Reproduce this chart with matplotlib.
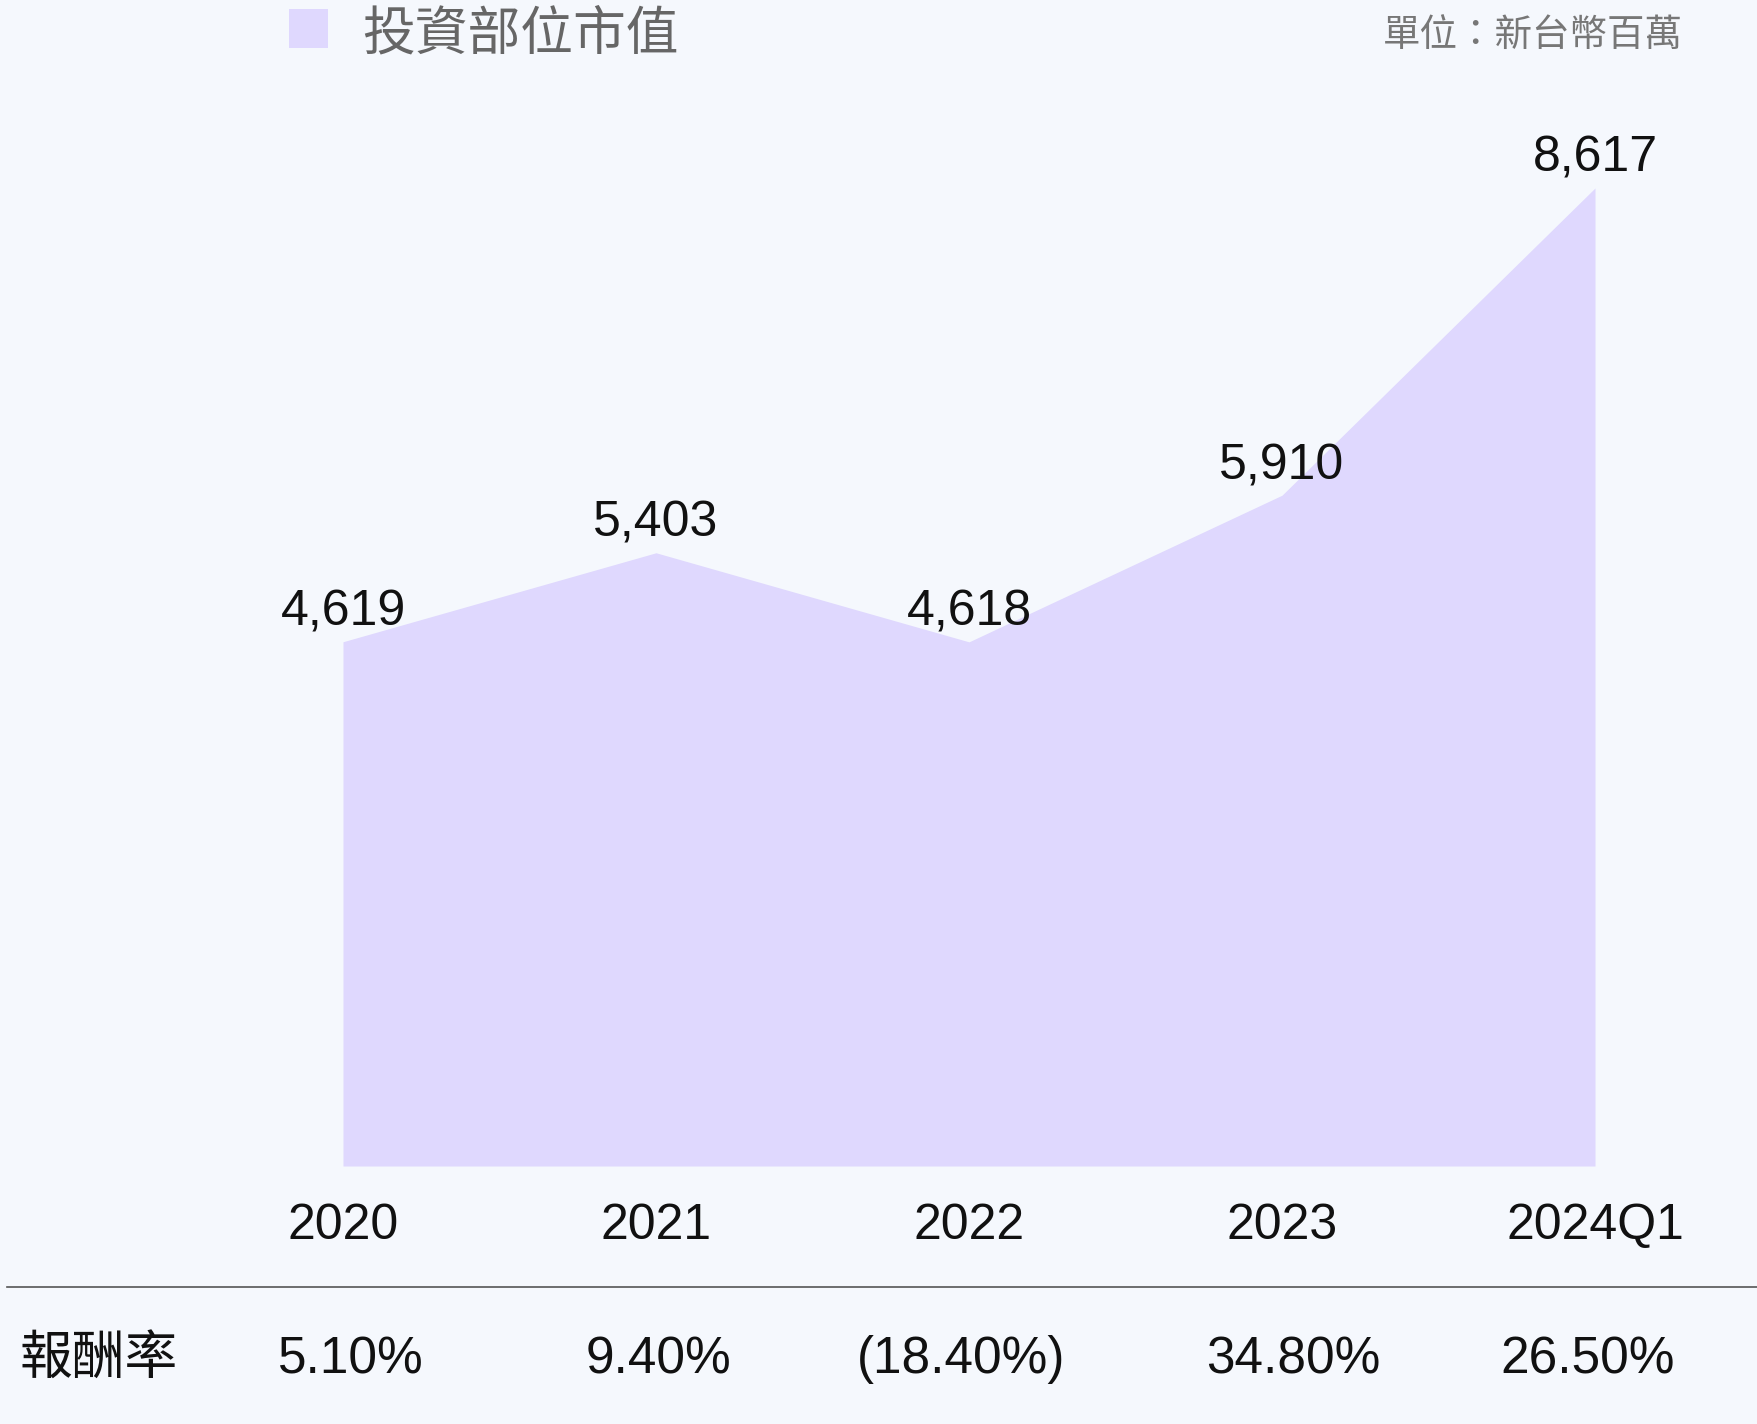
import numpy as np
import matplotlib.pyplot as plt

years = ['2020', '2021', '2022', '2023', '2024Q1']
market_value = [4619, 5403, 4618, 5910, 8617]
returns = ['5.10%', '9.40%', '(18.40%)', '34.80%', '26.50%']

legend_label = '投資部位市值'
unit_label = '單位：新台幣百萬'
row_label = '報酬率'

W, H = 1757, 1424
bg = '#f5f8fd'
fill = '#dfd8fe'
latin = ['Liberation Sans', 'Noto Sans CJK TC', 'DejaVu Sans']
cjk = ['Noto Sans CJK TC', 'DejaVu Sans']

fig = plt.figure(figsize=(W / 100, H / 100), dpi=100, facecolor=bg)

# axes spans from top of figure down to the baseline of the area
base_px = 1166
ax = fig.add_axes([0, 1 - base_px / H, 1, base_px / H])
ax.set_facecolor(bg)
for s in ax.spines.values():
    s.set_visible(False)
ax.set_xticks([])
ax.set_yticks([])

x = np.arange(len(years))
x0, step = 343, 313
ax.set_xlim(-x0 / step, (W - x0) / step)
ax.set_ylim(0, base_px / 0.1135)

ax.fill_between(x, 0, market_value, color=fill, linewidth=0)

for xi, v in zip(x, market_value):
    ax.annotate(f'{v:,}', (xi, v), xytext=(0, 21), textcoords='offset points',
                ha='center', va='center', fontsize=36, family=latin, color='#111111')

trans = ax.get_xaxis_transform()
for xi, yr in zip(x, years):
    ax.text(xi, -60 / base_px, yr, transform=trans, ha='center', va='center',
            fontsize=36, family=latin, color='#111111')

# returns row is not exactly centred under the years in the original
ret_shift = [6, 2, -6, 8, -5]  # points
for xi, r, dx in zip(x, returns, ret_shift):
    ax.annotate(r, (xi, -194 / base_px), xycoords=trans, xytext=(dx, 0),
                textcoords='offset points', ha='center', va='center',
                fontsize=37, family=latin, color='#111111')

# separator line above the returns row
fig.add_artist(plt.Line2D([7 / W, 1], [1 - 1287 / H] * 2, color='#555555', linewidth=1.2))

fig.text(19 / W, 1 - 1358 / H, row_label, ha='left', va='center',
         fontsize=38, family=cjk, color='#111111')

# legend
fig.add_artist(plt.Rectangle((289 / W, 1 - 48 / H), 39 / W, 39 / H,
                             transform=fig.transFigure, color=fill, linewidth=0))
fig.text(362 / W, 1 - 34 / H, legend_label, ha='left', va='center',
         fontsize=38, family=cjk, color='#666666')
fig.text(1683 / W, 1 - 35 / H, unit_label, ha='right', va='center',
         fontsize=27, family=cjk, color='#777777')

fig.savefig('out.png', dpi=100, facecolor=bg)
